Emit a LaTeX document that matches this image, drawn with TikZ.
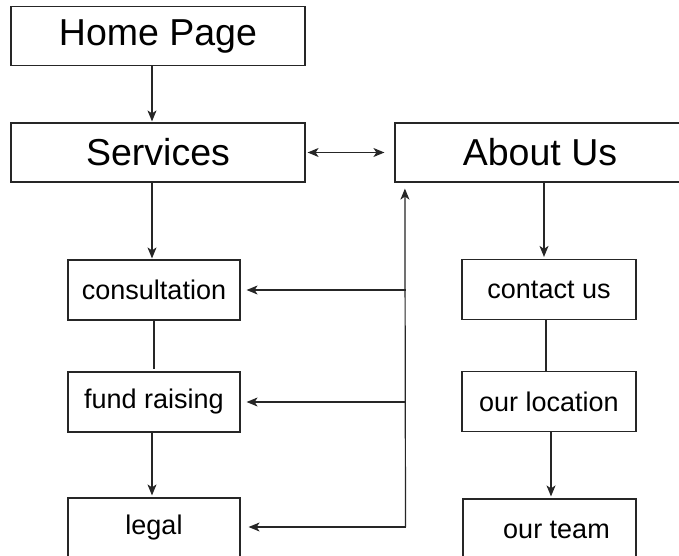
\documentclass[tikz,border=0pt]{standalone}
\usepackage{fontspec}
\setmainfont{Liberation Sans}
\usetikzlibrary{arrows.meta}
\tikzset{
  box/.style={draw=black!85, line width=1.2pt, inner sep=0pt, anchor=center},
  bigbox/.style={box, minimum width=294pt, minimum height=59pt, font=\fontsize{37.5}{40}\selectfont},
  smallbox/.style={box, minimum width=172pt, minimum height=60pt, font=\fontsize{27}{30}\selectfont},
  conn/.style={line width=1.2pt, draw=black!85},
  arr/.style={conn, -{Stealth[length=11pt,width=9pt,inset=3pt]}},
  darr/.style={conn, {Stealth[length=11pt,width=9pt,inset=3pt]}-{Stealth[length=11pt,width=9pt,inset=3pt]}}
}
\begin{document}
\begin{tikzpicture}[x=1pt,y=1pt]
\useasboundingbox (0,0) rectangle (679,-556);
\clip (0,0) rectangle (679,-556);
\fill[white] (0,0) rectangle (679,-556);
\node[bigbox] (home) at (158,-36) {Home Page};
\node[bigbox] (services) at (158,-152.5) {Services};
\node[bigbox, minimum width=290pt] (about) at (540,-152.5) {About Us};
\node[smallbox] (consult) at (154,-290) {consultation};
\node[smallbox] (fund) at (154,-402) {fund raising};
\node[smallbox] (legal) at (154,-528) {legal};
\node[smallbox, minimum width=174pt] (contact) at (549,-289.5) {contact us};
\node[smallbox, minimum width=174pt] (location) at (549,-401.5) {our location};
\node[smallbox, minimum width=173pt, minimum height=61pt] (team) at (549.5,-529.5) {\hspace{14pt}our team};
\coordinate (j) at (405.5,-527);
% left column
\draw[arr] ([xshift=-6pt]home.south) -- ([xshift=-6pt,yshift=1pt]services.north);
\draw[darr] ([xshift=2pt]services.east) -- ([xshift=-10pt]about.west);
\draw[arr] ([xshift=-6pt]services.south) -- ([xshift=-2pt,yshift=1pt]consult.north);
\draw[conn] (consult.south) -- ([yshift=2pt]fund.north);
\draw[arr] ([xshift=-2pt]fund.south) -- ([xshift=-2pt,yshift=2pt]legal.north);
% trunk
\draw[arr] (j) -- ([xshift=10.5pt,yshift=-6pt]about.south west);
\draw[arr] (consult.east -| j) -- ([xshift=6pt]consult.east);
\draw[arr] (fund.east -| j) -- ([xshift=6pt]fund.east);
\draw[arr] (j) -- ([xshift=8pt,yshift=1pt]legal.east);
% right column
\draw[arr] ([xshift=4pt]about.south) -- ([xshift=-5pt,yshift=2pt]contact.north);
\draw[conn] ([xshift=-3pt]contact.south) -- ([xshift=-3pt]location.north);
\draw[arr] ([xshift=2pt]location.south) -- ([xshift=1.5pt,yshift=2pt]team.north);
\end{tikzpicture}
\end{document}
